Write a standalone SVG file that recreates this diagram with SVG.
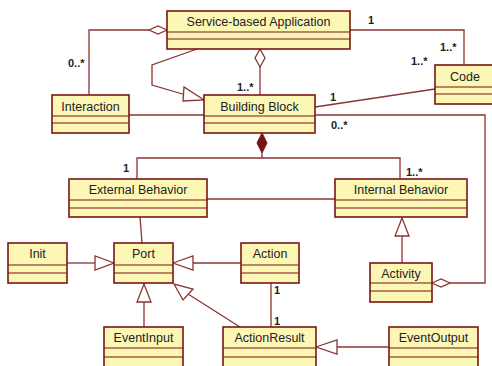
<svg xmlns="http://www.w3.org/2000/svg" width="492" height="366" viewBox="0 0 492 366">
<style>
.box{fill:#fdf7b6;stroke:#7a1414;stroke-width:1.6}
.div{stroke:#7a1414;stroke-width:1.2}
.t{font-family:"Liberation Sans",Arial,sans-serif;font-size:12.5px;fill:#222;text-anchor:middle}
.m{font-family:"Liberation Sans",Arial,sans-serif;font-size:11px;font-weight:bold;fill:#222}
.c{fill:none;stroke:#8a3434;stroke-width:1.3}
.tri{fill:#fff;stroke:#8a3434;stroke-width:1.3}
.dia{fill:#fff;stroke:#8a3434;stroke-width:1.3}
.fdia{fill:#7a1414;stroke:#7a1414;stroke-width:1}
</style>
<rect width="492" height="366" fill="#fff"/>
<g id="connectors">
<polyline class="c" points="149,30 89,30 89,95"/>
<polygon class="dia" points="167,30 158,26 149,30 158,34"/>
<polyline class="c" points="350,30 464,30 464,65"/>
<polyline class="c" points="197,49 152,65 152,85 186,95"/>
<polygon class="tri" points="204,100 184,87 183,101"/>
<line class="c" x1="260" y1="67" x2="260" y2="95"/>
<polygon class="dia" points="260,49 255,58 260,67 265,58"/>
<line class="c" x1="129" y1="115" x2="204" y2="115"/>
<line class="c" x1="315" y1="107" x2="435" y2="89"/>
<polyline class="c" points="315,115 485,115 485,283 450,283"/>
<polygon class="dia" points="432,283 441,279 450,283 441,287"/>
<polygon class="fdia" points="262,133 257,143 262,153 267,143"/>
<polyline class="c" points="262,153 262,158"/>
<polyline class="c" points="137,179 137,158 400,158 400,179"/>
<line class="c" x1="207" y1="199" x2="335" y2="199"/>
<line class="c" x1="402" y1="236" x2="402" y2="263"/>
<polygon class="tri" points="402,218 395,236 409,236"/>
<line class="c" x1="140" y1="217" x2="142" y2="243"/>
<line class="c" x1="67" y1="263" x2="95" y2="263"/>
<polygon class="tri" points="114,263 95,256 95,270"/>
<line class="c" x1="241" y1="263" x2="193" y2="263"/>
<polygon class="tri" points="173,263 193,256 193,270"/>
<line class="c" x1="240" y1="327" x2="188" y2="294"/>
<polygon class="tri" points="174,284 183,300 193,289"/>
<line class="c" x1="144" y1="302" x2="144" y2="327"/>
<polygon class="tri" points="144,284 137,302 151,302"/>
<line class="c" x1="271" y1="283" x2="271" y2="327"/>
<line class="c" x1="389" y1="347" x2="337" y2="347"/>
<polygon class="tri" points="316,347 337,340 337,354"/>
<text class="m" x="68" y="67">0..*</text>
<text class="m" x="368" y="24">1</text>
<text class="m" x="440" y="51">1..*</text>
<text class="m" x="411" y="65">1..*</text>
<text class="m" x="237" y="91">1..*</text>
<text class="m" x="330" y="101">1</text>
<text class="m" x="331" y="129">0..*</text>
<text class="m" x="123" y="172">1</text>
<text class="m" x="406" y="176">1..*</text>
<text class="m" x="274" y="294">1</text>
<text class="m" x="274" y="325">1</text>
</g>
<g id="service"><rect class="box" x="167" y="11" width="183" height="38"/><line class="div" x1="167" y1="32" x2="350" y2="32"/><line class="div" x1="167" y1="39" x2="350" y2="39"/><text class="t" x="258.5" y="26">Service-based Application</text></g>
<g id="interaction"><rect class="box" x="52" y="95" width="77" height="38"/><line class="div" x1="52" y1="116" x2="129" y2="116"/><line class="div" x1="52" y1="123" x2="129" y2="123"/><text class="t" x="90.5" y="111">Interaction</text></g>
<g id="buildingblock"><rect class="box" x="204" y="95" width="111" height="38"/><line class="div" x1="204" y1="116" x2="315" y2="116"/><line class="div" x1="204" y1="123" x2="315" y2="123"/><text class="t" x="259.5" y="111">Building Block</text></g>
<g id="code"><rect class="box" x="435" y="65" width="62" height="39"/><line class="div" x1="435" y1="87" x2="497" y2="87"/><line class="div" x1="435" y1="94" x2="497" y2="94"/><text class="t" x="465" y="81">Code</text></g>
<g id="external"><rect class="box" x="69" y="179" width="138" height="38"/><line class="div" x1="69" y1="200" x2="207" y2="200"/><line class="div" x1="69" y1="208" x2="207" y2="208"/><text class="t" x="138" y="194">External Behavior</text></g>
<g id="internal"><rect class="box" x="335" y="179" width="132" height="38"/><line class="div" x1="335" y1="200" x2="467" y2="200"/><line class="div" x1="335" y1="208" x2="467" y2="208"/><text class="t" x="401" y="194">Internal Behavior</text></g>
<g id="init"><rect class="box" x="8" y="243" width="59" height="40"/><line class="div" x1="8" y1="265" x2="67" y2="265"/><line class="div" x1="8" y1="273" x2="67" y2="273"/><text class="t" x="37.5" y="258">Init</text></g>
<g id="port"><rect class="box" x="114" y="243" width="59" height="40"/><line class="div" x1="114" y1="265" x2="173" y2="265"/><line class="div" x1="114" y1="273" x2="173" y2="273"/><text class="t" x="143.5" y="258">Port</text></g>
<g id="action"><rect class="box" x="241" y="243" width="58" height="40"/><line class="div" x1="241" y1="265" x2="299" y2="265"/><line class="div" x1="241" y1="273" x2="299" y2="273"/><text class="t" x="270" y="258">Action</text></g>
<g id="activity"><rect class="box" x="370" y="263" width="62" height="39"/><line class="div" x1="370" y1="283" x2="432" y2="283"/><line class="div" x1="370" y1="291" x2="432" y2="291"/><text class="t" x="401" y="278">Activity</text></g>
<g id="eventinput"><rect class="box" x="104" y="327" width="79" height="45"/><line class="div" x1="104" y1="348" x2="183" y2="348"/><line class="div" x1="104" y1="357" x2="183" y2="357"/><text class="t" x="143.5" y="342">EventInput</text></g>
<g id="actionresult"><rect class="box" x="223" y="327" width="93" height="45"/><line class="div" x1="223" y1="348" x2="316" y2="348"/><line class="div" x1="223" y1="357" x2="316" y2="357"/><text class="t" x="269.5" y="342">ActionResult</text></g>
<g id="eventoutput"><rect class="box" x="389" y="327" width="89" height="45"/><line class="div" x1="389" y1="348" x2="478" y2="348"/><line class="div" x1="389" y1="357" x2="478" y2="357"/><text class="t" x="433.5" y="342">EventOutput</text></g>
</svg>
